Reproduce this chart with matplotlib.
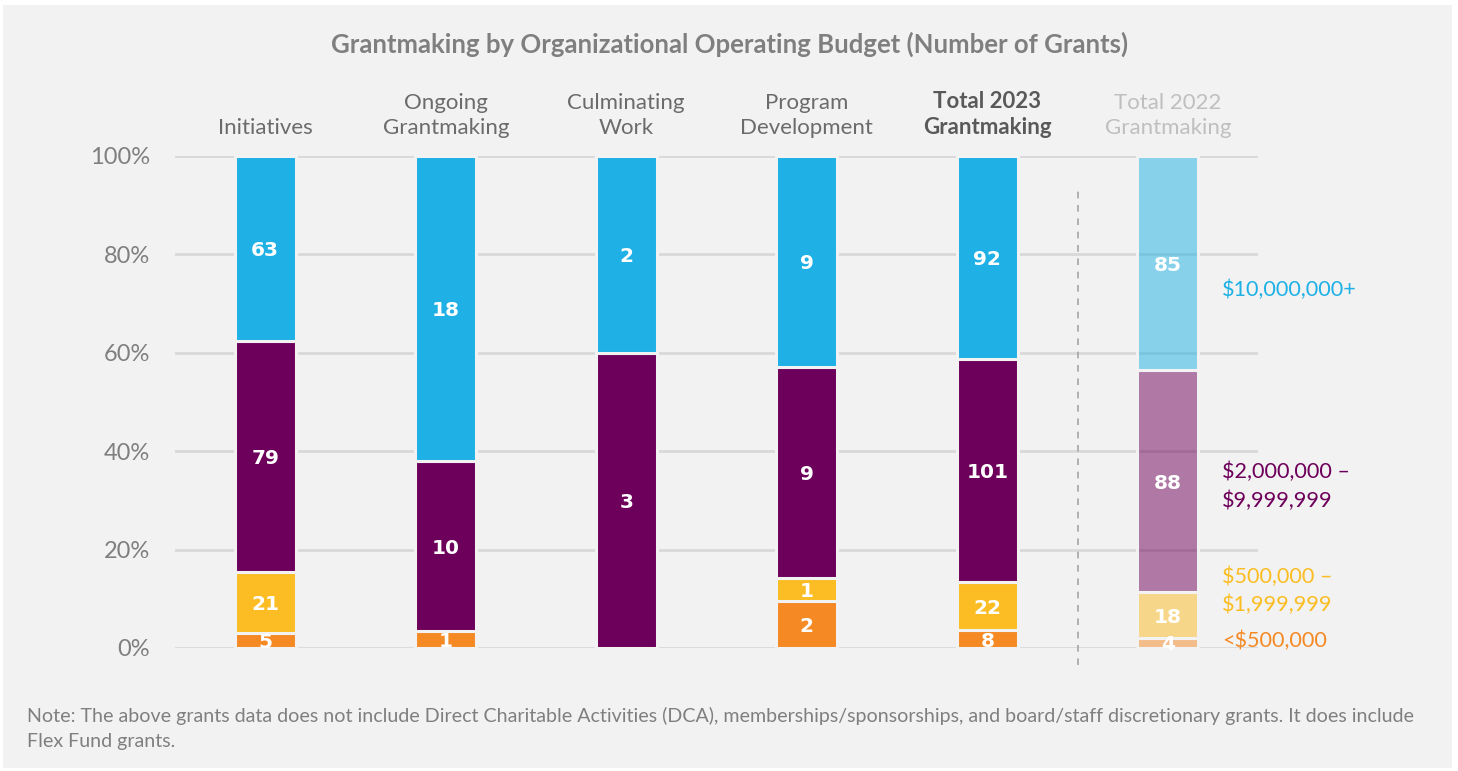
import matplotlib
matplotlib.use('Agg')
import matplotlib.pyplot as plt
import numpy as np
from matplotlib.patches import Rectangle

# ---------------- data ----------------
categories = ["Initiatives", "Ongoing\nGrantmaking", "Culminating\nWork",
              "Program\nDevelopment", "Total 2023\nGrantmaking", "Total 2022\nGrantmaking"]
tier_names = ["<$500,000", "$500,000 –\n$1,999,999", "$2,000,000 –\n$9,999,999", "$10,000,000+"]
under_500k = [5, 1, 0, 2, 8, 4]
k500_to_2m = [21, 0, 0, 1, 22, 18]
m2_to_10m = [79, 10, 3, 9, 101, 88]
m10_plus = [63, 18, 2, 9, 92, 85]
y_ticks = [0, 20, 40, 60, 80, 100]
y_tick_labels = ["0%", "20%", "40%", "60%", "80%", "100%"]
legend_y = [1.4, 11.6, 32.9, 72.8]

title = "Grantmaking by Organizational Operating Budget (Number of Grants)"
note1 = ("Note: The above grants data does not include Direct Charitable Activities (DCA), "
         "memberships/sponsorships, and board/staff discretionary grants. It does include")
note2 = "Flex Fund grants."

# ---------------- style ----------------
BG = '#f2f2f2'
tier_colors = ['#f58a25', '#fbbd23', '#6d005a', '#1fb1e6']
cat_colors = ['#6b6b6b', '#6b6b6b', '#6b6b6b', '#6b6b6b', '#595959', '#bfbfbf']
cat_weights = ['normal', 'normal', 'normal', 'normal', 'bold', 'normal']
FONT = ['Lato', 'DejaVu Sans']
NUMFONT = ['DejaVu Sans']
plt.rcParams['font.family'] = FONT

W, H = 1458, 771
fig = plt.figure(figsize=(W / 100, H / 100), dpi=100, facecolor='white')
fig.patches.append(Rectangle((3 / W, 3 / H), (W - 9) / W, (H - 8) / H,
                             transform=fig.transFigure, facecolor=BG,
                             edgecolor='none', zorder=-10))

ax = fig.add_axes([175 / W, 123 / H, 1083 / W, 492 / H])
ax.set_facecolor('none')
for s in ax.spines.values():
    s.set_visible(False)

x = np.arange(len(categories))
series = [under_500k, k500_to_2m, m2_to_10m, m10_plus]
totals = np.sum(np.array(series, dtype=float), axis=0)

for yv in y_ticks:
    ax.axhline(yv, color='#d9d9d9', lw=2, zorder=0)

bottom = np.zeros(len(categories))
for ti, vals in enumerate(series):
    vals = np.array(vals, dtype=float)
    pct = vals / totals * 100
    for i in range(len(categories)):
        if vals[i] == 0:
            continue
        alpha = 0.5 if i == len(categories) - 1 else 1.0
        rgba = matplotlib.colors.to_rgba(tier_colors[ti], alpha)
        ax.bar(x[i], pct[i], bottom=bottom[i], width=0.338, color=rgba,
               edgecolor=BG, linewidth=2.2, zorder=2)
        ax.text(x[i], bottom[i] + pct[i] / 2, f"{int(vals[i])}", ha='center',
                va='center_baseline', color='white', fontsize=14.5,
                family=NUMFONT, fontweight='bold', zorder=3)
    bottom += pct

ax.set_xlim(-0.5, 5.5)
ax.set_ylim(0, 100)
ax.set_xticks([])
ax.set_yticks(y_ticks)
ax.set_yticklabels(y_tick_labels)
ax.tick_params(axis='y', length=0, pad=18, labelsize=17, labelcolor='#7f7f7f')

# separator
ax.axvline(4.5, ymin=-0.035, ymax=0.93, color='#a6a6a6', lw=1.2,
           ls=(0, (4, 4)), clip_on=False, zorder=1)

# category labels
for i, cat in enumerate(categories):
    ax.text(x[i], 1.036, cat, transform=ax.get_xaxis_transform(), ha='center',
            va='bottom', fontsize=16, linespacing=1.32, color=cat_colors[i],
            fontweight=cat_weights[i])

# right-side tier labels
for ti, name in enumerate(tier_names):
    ax.text(5.3, legend_y[ti], name, ha='left', va='center', fontsize=15.6,
            color=tier_colors[ti], linespacing=1.5, clip_on=False)

fig.text(730 / W, 1 - 44 / H, title, ha='center', va='center', fontsize=18.5,
         fontweight='bold', color='#7f7f7f')
fig.text(27 / W, 1 - 716 / H, note1, ha='left', va='center', fontsize=14.1,
         color='#7f7f7f')
fig.text(27 / W, 1 - 741 / H, note2, ha='left', va='center', fontsize=14.1,
         color='#7f7f7f')

fig.savefig('out.png', dpi=100, facecolor=fig.get_facecolor())
